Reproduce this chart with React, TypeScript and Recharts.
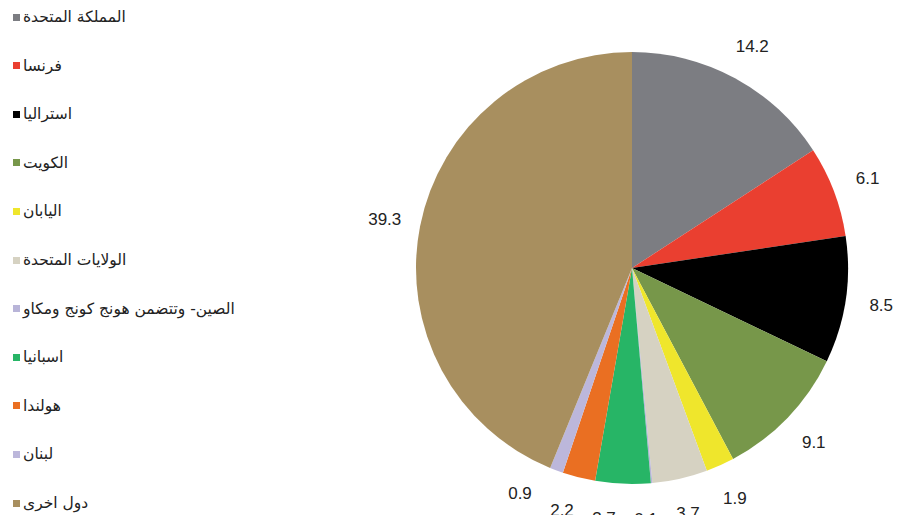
import React from 'react';
import { PieChart, Pie, Cell } from 'recharts';

const countries = [
  'المملكة المتحدة',
  'فرنسا',
  'استراليا',
  'الكويت',
  'اليابان',
  'الولايات المتحدة',
  'الصين- وتتضمن هونج كونج ومكاو',
  'اسبانيا',
  'هولندا',
  'لبنان',
  'دول اخرى',
];
const shares = [14.2, 6.1, 8.5, 9.1, 1.9, 3.7, 0.1, 3.7, 2.2, 0.9, 39.3];
const colors = [
  '#7c7d82',
  '#ea3f30',
  '#000000',
  '#77974a',
  '#efe62c',
  '#d6d2c2',
  '#b8b4d8',
  '#27b566',
  '#ea6f22',
  '#bcb7db',
  '#a88f5f',
];

const data = countries.map((name, i) => ({ name, value: shares[i] }));

const RAD = Math.PI / 180;
const LABEL_GAP = 36; // distance of labels outside the pie
const MIN_DX = 42; // minimal horizontal spacing between neighbouring bottom labels

// label angles (degrees clockwise from top), spread apart at the bottom to avoid overlap
function labelAngles(radius: number): number[] {
  const total = shares.reduce((a, b) => a + b, 0);
  let cum = 0;
  const angles = shares.map((v) => {
    const a = ((cum + v / 2) / total) * 360;
    cum += v;
    return a;
  });
  const R = radius + LABEL_GAP;
  for (let i = 1; i < angles.length; i++) {
    const p = angles[i - 1];
    const a = angles[i];
    if (p > 90 && p < 270 && a > 90 && a < 270) {
      const xp = R * Math.sin(p * RAD);
      const xa = R * Math.sin(a * RAD);
      if (xp - xa < MIN_DX) {
        const s = Math.max(-1, (xp - MIN_DX) / R);
        angles[i] = 180 - Math.asin(s) / RAD;
      }
    }
  }
  return angles;
}

const OUTER = 216;
const angles = labelAngles(OUTER);

const renderLabel = (props: any) => {
  const { cx, cy, outerRadius, value, index } = props;
  const r = outerRadius + LABEL_GAP;
  const a = angles[index];
  const x = cx + r * Math.sin(a * RAD);
  const y = cy - r * Math.cos(a * RAD);
  return (
    <text
      x={x}
      y={y}
      fill="#222"
      fontSize={17}
      fontFamily="Liberation Sans, Arial, sans-serif"
      textAnchor="middle"
      dominantBaseline="central"
    >
      {value.toFixed(1)}
    </text>
  );
};

function LegendBox() {
  return (
    <div style={{ position: 'absolute', left: 0, top: 0, width: 260, height: 515 }}>
      {countries.map((name, i) => (
        <div
          key={name}
          style={{
            position: 'absolute',
            left: 13,
            top: 17 + i * 48.6 - 11,
            height: 22,
            display: 'flex',
            alignItems: 'center',
            whiteSpace: 'nowrap',
          }}
        >
          <span
            style={{
              display: 'inline-block',
              width: 7,
              height: 7,
              background: colors[i],
              marginRight: 3,
            }}
          />
          <span
            style={{
              fontFamily: 'DejaVu Sans, sans-serif',
              fontSize: 15.5,
              color: '#222',
              direction: 'rtl',
            }}
          >
            {name}
          </span>
        </div>
      ))}
    </div>
  );
}

export default function App() {
  return (
    <div style={{ position: 'absolute', left: 0, top: 0, width: 900, height: 515, background: '#fff', overflow: 'hidden' }}>
      <PieChart width={900} height={515} margin={{ top: 0, right: 0, bottom: 0, left: 0 }}>
        <Pie
          data={data}
          dataKey="value"
          nameKey="name"
          cx={632}
          cy={268}
          outerRadius={OUTER}
          startAngle={90}
          endAngle={-270}
          stroke="none"
          label={renderLabel}
          labelLine={false}
          isAnimationActive={false}
        >
          {data.map((d, i) => (
            <Cell key={d.name} fill={colors[i]} />
          ))}
        </Pie>
      </PieChart>
      <LegendBox />
    </div>
  );
}
